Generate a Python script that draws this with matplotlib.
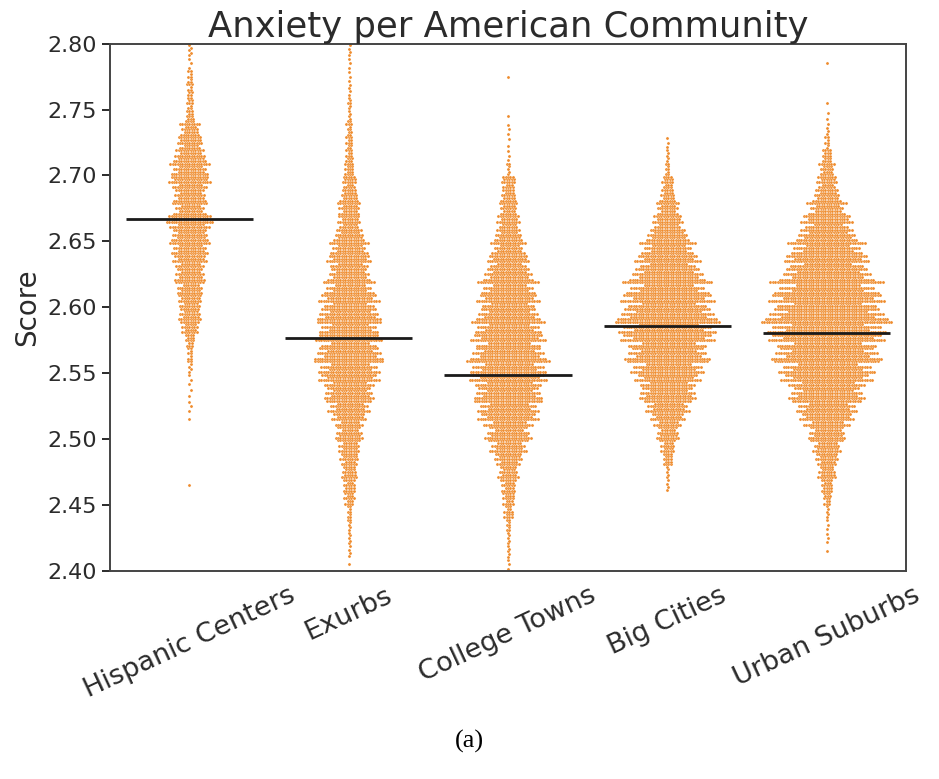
# swarm-like dot plot of anxiety scores per community type
import numpy as np
import matplotlib.pyplot as plt

categories = ['Hispanic Centers', 'Exurbs', 'College Towns', 'Big Cities', 'Urban Suburbs']

# lower edges of the score bins (width 0.01), 2.40 ... 2.79
bin_lo = np.round(np.arange(2.40, 2.80, 0.01), 2)

# number of points per bin (from 2.40 upwards)
hispanic = [0, 0, 0, 0, 0, 0, 1, 0, 0, 0,
            0, 1, 3, 2, 3, 6, 8, 16, 32, 40,
            43, 49, 54, 59, 68, 68, 81, 59, 59, 73,
            68, 59, 45, 35, 15, 10, 10, 8, 3, 5]
exurbs = [1, 4, 5, 6, 8, 19, 22, 27, 32, 40,
          49, 59, 76, 89, 103, 113, 122, 113, 108, 113,
          103, 89, 76, 76, 68, 54, 40, 40, 32, 24,
          18, 14, 12, 10, 6, 6, 4, 3, 3, 4]
college = [3, 5, 5, 8, 16, 22, 27, 35, 49, 68,
           81, 103, 113, 122, 135, 140, 135, 130, 122, 113,
           108, 100, 89, 73, 59, 49, 40, 32, 27, 24,
           6, 3, 2, 3, 1, 0, 0, 1, 0, 0]
big_cities = [0, 0, 0, 0, 0, 0, 4, 5, 18, 27,
              40, 59, 81, 103, 113, 135, 149, 162, 176, 176,
              162, 149, 135, 113, 95, 76, 54, 40, 27, 20,
              8, 5, 3, 0, 0, 0, 0, 0, 0, 0]
suburbs = [0, 1, 3, 3, 5, 14, 22, 32, 40, 54,
           68, 95, 113, 135, 157, 176, 194, 203, 216, 216,
           203, 189, 167, 149, 130, 108, 89, 68, 49, 35,
           27, 18, 7, 4, 2, 1, 0, 0, 1, 0]

# black bars (median per community)
medians = [2.667, 2.5765, 2.549, 2.5855, 2.5805]

all_counts = [hispanic, exurbs, college, big_cities, suburbs]

# uneven row lengths inside a bin, gives the ragged swarm edge
row_pattern = np.array([1.15, 0.8, 1.05, 0.7, 1.25, 0.95])


def swarm_xy(center, counts, rows=5, dx=0.015, bw=0.01):
    # spread every bin over a few sub-rows, points side by side in each row
    xs, ys = [], []
    for idx, (lo, n) in enumerate(zip(bin_lo, counts)):
        if n == 0:
            continue
        r = min(rows, n)
        w = np.roll(row_pattern, 2 * idx)[:r]
        raw = n * w / w.sum()
        per = np.floor(raw).astype(int)
        rest = n - per.sum()
        per[np.argsort(per - raw)[:rest]] += 1
        for k, m in enumerate(per):
            if m == 0:
                continue
            y = lo + (k + 0.5) * bw / r
            off = (np.arange(m) - (m - 1) / 2) * dx + (k % 2) * dx / 2
            xs.extend(center + off)
            ys.extend([y] * m)
    return xs, ys


text_col = '#2b2b2b'
plt.rcParams['font.family'] = 'DejaVu Sans'

fig = plt.figure(figsize=(9.39, 7.79), dpi=100)
ax = fig.add_axes([0.117, 0.267, 0.848, 0.677])

for i, counts in enumerate(all_counts):
    xs, ys = swarm_xy(i, counts)
    ax.scatter(xs, ys, s=5, color='#ef8b2c', edgecolors='white', linewidths=0.2, zorder=2)

ax.hlines(medians, np.arange(len(categories)) - 0.4, np.arange(len(categories)) + 0.4,
          color='#1a1a1a', lw=2, zorder=3)

ax.set_xlim(-0.5, 4.5)
ax.set_ylim(2.40, 2.80)
ax.set_yticks(np.round(np.arange(2.40, 2.801, 0.05), 2))
ax.set_yticklabels([f'{v:.2f}' for v in np.arange(2.40, 2.801, 0.05)])
ax.set_xticks(range(len(categories)))
ax.set_xticklabels(categories, rotation=25, ha='center')
ax.tick_params(axis='y', labelsize=16, length=6, width=1.4, colors=text_col)
ax.tick_params(axis='x', labelsize=19.5, length=0, colors=text_col, pad=8)
for sp in ax.spines.values():
    sp.set_color('#444444')
    sp.set_linewidth(1.4)

ax.set_ylabel('Score', fontsize=20, color=text_col)
ax.set_title('Anxiety per American Community', fontsize=25.5, color=text_col, pad=4)

fig.text(0.5, 0.04, '(a)', family='Liberation Serif', fontsize=19, ha='center', color='black')

fig.savefig('out.png', dpi=100)
